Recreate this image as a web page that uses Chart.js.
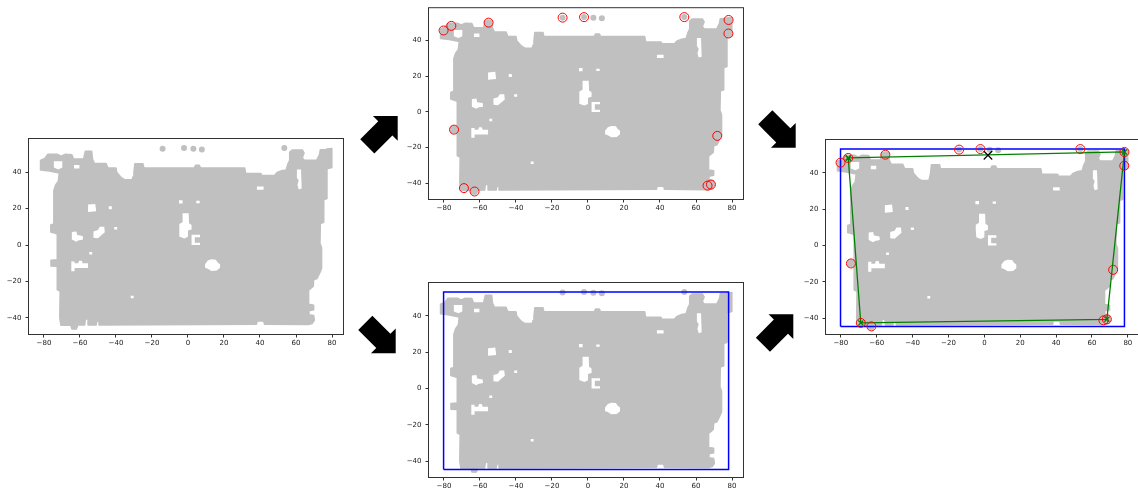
<!DOCTYPE html>
<html><head><meta charset="utf-8">
<script src="https://cdn.jsdelivr.net/npm/chart.js"></script>
<style>
html,body{margin:0;padding:0;background:#fff;width:1138px;height:495px;overflow:hidden;position:relative}
canvas{position:absolute}
svg{position:absolute;left:0;top:0}
</style></head><body>
<canvas id="c1" width="350" height="222" style="left:0px;top:129px"></canvas>
<canvas id="c2" width="351" height="216" style="left:399px;top:0px"></canvas>
<canvas id="c3" width="351" height="220" style="left:399px;top:274px"></canvas>
<canvas id="c4" width="350" height="221" style="left:796px;top:130px"></canvas>
<svg width="1138" height="495">
  <g fill="#000">
    <polygon transform="translate(367.3,146.4) rotate(-45)" points="0,-10 25.5,-10 25.5,-17.5 43,0 25.5,17.5 25.5,10 0,10"/>
    <polygon transform="translate(365.3,322.9) rotate(45)" points="0,-10 25.5,-10 25.5,-17.5 43,0 25.5,17.5 25.5,10 0,10"/>
    <polygon transform="translate(765.3,117.3) rotate(45)" points="0,-10 25.5,-10 25.5,-17.5 43,0 25.5,17.5 25.5,10 0,10"/>
    <polygon transform="translate(762.9,344.7) rotate(-45)" points="0,-10 25.5,-10 25.5,-17.5 43,0 25.5,17.5 25.5,10 0,10"/>
  </g>
</svg>
<script>
// ---- tick labels / ranges ----
const xTicks = [-80, -60, -40, -20, 0, 20, 40, 60, 80];
const yTicks = [-40, -20, 0, 20, 40];
const xRange = [-88.3, 86.1];
const yRange = [-48.8, 58.2];

// ---- selected extreme points (red circles) ----
const hullX = [-80.2, -75.9, -55.2, -14.1, -2.2, 53.5, 78.1, 78.0, 71.8, 68.3, 66.4, -63.0, -68.9, -74.4];
const hullY = [45.7, 48.3, 50.1, 52.9, 53.2, 53.2, 51.6, 44.0, -13.4, -40.7, -41.3, -44.6, -42.7, -9.9];

// ---- other isolated grey points ----
const extraX = [3.0, 7.7];
const extraY = [52.8, 52.5];

// ---- fitted quadrilateral (green) ----
const quadX = [-75.9, 78.1, 68.3, -68.9];
const quadY = [48.3, 51.6, -40.7, -42.7];

// ---- black cross marker ----
const markX = [2.0];
const markY = [49.8];

// ---- outline of the dense grey point cloud ----
const cloudOutline = [
 [-81.8,41.2],[-81.9,46.5],[-79.5,47.5],[-77.8,49.8],[-72.5,49.8],[-70.5,48.8],[-68,49.8],[-64.5,49.6],
 [-63.5,47.2],[-58,47.2],[-57,51.5],[-53.5,51.5],[-53,47],[-52,44.8],[-45.5,44.8],[-44.5,42.3],[-40,42.3],
 [-39.5,39.8],[-37,37],[-35,35.8],[-31,35.8],[-30.5,37.5],[-30,40],[-29.5,44.6],[-25,44.6],[-24.5,42.3],
 [3.5,42.3],[4.2,43.8],[6.3,43.8],[7,42.3],[31.5,42.3],[32,39.3],[40.5,39.3],[41,38.2],[48,38.2],
 [49.5,39.8],[52,40.8],[54.5,41.2],[55.5,44.5],[56.5,46.5],[56.5,51],[58,52.2],[63.5,52.2],[64.5,50.5],
 [63.5,48],[64.5,46.6],[71.5,46.6],[73,49.5],[73.5,52.3],[76.5,52.5],[79.8,53],[79.9,42.5],[77.2,41.8],
 [77.2,25.5],[75.4,24.8],[75.4,12.5],[73.5,11.8],[73.3,1],[74.2,-1.5],[74.2,-12.8],[73.3,-15],[71.6,-18.4],
 [69.8,-19],[69.6,-22.6],[68.5,-23.5],[67,-24.8],[67,-32.5],[69.8,-33],[69.8,-35.5],[67.2,-36],[67.2,-38.2],
 [69.8,-38.6],[70.2,-41.2],[69,-43],[66.8,-43.6],[42.5,-43.4],[42,-41.6],[38.5,-41.6],[38,-43.4],
 [-49,-43.8],[-49.4,-41.6],[-50.6,-41.6],[-51,-43.8],[-55.2,-43.8],[-55.5,-40.6],[-57,-40.6],[-57.4,-43.8],
 [-61.3,-43.9],[-62,-46],[-64.5,-46],[-65,-44],[-70.6,-44],[-71.2,-40],[-71,-25.4],[-72.5,-24.5],
 [-72.6,-11.6],[-76.1,-11.5],[-76.1,-8.3],[-72.6,-8],[-72.6,6],[-74.2,6.6],[-76.2,7.2],[-76.2,11],
 [-74.5,11.6],[-74.5,30],[-73.5,33],[-72,35],[-71.5,39.5],[-77,40.6]
];

// ---- empty gaps inside the cloud ----
const cloudHoles = [
 [[-74.5,46],[-69.8,46],[-69.8,42.5],[-72,41.5],[-74.5,42.5]],
 [[-63.3,44],[-60.3,44],[-60.3,42],[-63.3,42]],
 [[-55.5,22.2],[-51.5,22.6],[-51,18.5],[-55.5,18.1]],
 [[-44,21.3],[-42.3,21.3],[-42.3,19.6],[-44,19.6]],
 [[-5,24.6],[-3,24.6],[-3,22.8],[-5,22.8]],
 [[4.6,24.3],[6.5,24.3],[6.5,23],[4.6,23]],
 [[-3,17.5],[0.4,17.5],[0.6,12],[2,11],[2,8.5],[0,8],[0,4.5],[-2,3.6],[-4.5,4.5],[-4.8,8.5],[-4.8,11.5],[-3,12.5]],
 [[2,5.6],[6.7,5.6],[6.7,4.3],[3.8,4.3],[3.8,1.3],[6.7,1.3],[6.7,0],[2,0]],
 [[-52.5,7.5],[-50,8.2],[-49,10],[-46.5,10],[-46.2,7],[-48,5.5],[-50,3.8],[-52.5,4]],
 [[-41,9.9],[-39.3,9.9],[-39.3,8.5],[-41,8.5]],
 [[-64.5,7.2],[-62,7.5],[-61.5,5.5],[-58.5,5],[-58.3,3],[-61,2.5],[-62,1.8],[-64.5,3]],
 [[-54.8,-3.8],[-53.2,-3.8],[-53.2,-5.2],[-54.8,-5.2]],
 [[-64.8,-9],[-63,-9],[-63,-10],[-61,-10],[-60.5,-8.6],[-59,-8.6],[-58.5,-10],[-55.5,-10],[-55.5,-12.6],[-63,-12.6],[-63,-14.4],[-64.8,-14.4]],
 [[11,-8.5],[13,-7.8],[15.5,-8],[16.5,-9.5],[17.8,-10.5],[17.8,-12.5],[16,-14],[13,-14.2],[11,-13],[9.5,-12.5],[9.5,-10.5]],
 [[-31.8,-27.8],[-30.2,-27.8],[-30.2,-29.2],[-31.8,-29.2]],
 [[38.3,32.1],[42,32.1],[42,30.3],[38.3,30.3]],
 [[60.5,41.5],[62.8,41.5],[62.8,38],[63.3,36],[63.3,31],[61.5,30.5],[60.8,33],[61.5,35.5],[60.5,37]]
];

// ---- helpers ----
const GREY = '#c0c0c0';
const pairsToXY = arr => arr.map(([x, y]) => ({x, y}));
const colsToXY = (xs, ys) => xs.map((x, i) => ({x, y: ys[i]}));
const closed = pts => pts.concat([pts[0]]);
const fmt = v => (v < 0 ? '\u2212' + Math.abs(v) : String(v));

function lineDS(pts, o) {
  return Object.assign({data: pts, showLine: true, tension: 0, pointRadius: 0, pointHoverRadius: 0,
    fill: false, borderWidth: 1}, o);
}

function baseDatasets() {
  const ds = [];
  ds.push(lineDS(closed(pairsToXY(cloudOutline)), {fill: 'shape', backgroundColor: GREY,
    borderColor: GREY, borderWidth: 1.5, borderJoinStyle: 'round', order: 100}));
  cloudHoles.forEach(h => ds.push(lineDS(closed(pairsToXY(h)), {fill: 'shape', backgroundColor: '#ffffff',
    borderColor: 'rgba(0,0,0,0)', borderWidth: 0, order: 90})));
  ds.push({data: colsToXY(hullX.concat(extraX), hullY.concat(extraY)), showLine: false, pointRadius: 3,
    pointHoverRadius: 3, pointBackgroundColor: GREY, pointBorderWidth: 0, order: 80});
  return ds;
}
function redDS() {
  return {data: colsToXY(hullX, hullY), showLine: false, pointRadius: 4.5, pointHoverRadius: 4.5,
    pointStyle: 'circle', pointBackgroundColor: 'rgba(0,0,0,0)', pointBorderColor: '#ff0000',
    pointBorderWidth: 1, order: 30};
}
function blueDS() {
  const x0 = Math.min(...hullX), x1 = Math.max(...hullX);
  const y0 = Math.min(...hullY), y1 = Math.max(...hullY);
  return lineDS([{x: x0, y: y0}, {x: x1, y: y0}, {x: x1, y: y1}, {x: x0, y: y1}, {x: x0, y: y0}],
    {borderColor: '#0000ff', borderWidth: 1.5, order: 50});
}
function greenDS() {
  return lineDS(closed(colsToXY(quadX, quadY)), {borderColor: '#008000', borderWidth: 1.3,
    pointRadius: 3.5, pointHoverRadius: 3.5, pointStyle: 'crossRot', pointBorderColor: '#008000',
    pointBackgroundColor: '#008000', pointBorderWidth: 1.3, order: 40});
}
function blackDS() {
  return {data: colsToXY(markX, markY), showLine: false, pointStyle: 'crossRot', pointRadius: 6,
    pointHoverRadius: 6, pointBorderColor: '#000', pointBorderWidth: 1.2, order: 20};
}

const framePlugin = {
  id: 'frame',
  afterDatasetsDraw(chart) {
    const {ctx, chartArea: a} = chart;
    ctx.save();
    ctx.strokeStyle = '#333';
    ctx.lineWidth = 1;
    ctx.strokeRect(a.left - 0.5, a.top - 0.5, a.right - a.left + 1, a.bottom - a.top + 1);
    ctx.restore();
  }
};

Chart.defaults.font.family = 'DejaVu Sans';

function makePanel(id, yW, xH, padT, padR, datasets) {
  const tickFont = {family: 'DejaVu Sans', size: 7};
  const grid = {display: true, drawOnChartArea: false, drawTicks: true, tickLength: 3.5,
    tickColor: '#333', color: '#333', lineWidth: 1};
  new Chart(document.getElementById(id), {
    type: 'line',
    data: {datasets},
    options: {
      responsive: false, animation: false, events: [],
      layout: {padding: {left: 0, top: padT, right: padR, bottom: 0}},
      plugins: {legend: {display: false}, tooltip: {enabled: false}},
      scales: {
        x: {type: 'linear', min: xRange[0], max: xRange[1],
          afterBuildTicks: s => { s.ticks = xTicks.map(v => ({value: v})); },
          afterFit: s => { s.height = xH; },
          grid, border: {display: false},
          ticks: {font: tickFont, color: '#1a1a1a', padding: 1, maxRotation: 0, autoSkip: false, callback: fmt}},
        y: {type: 'linear', min: yRange[0], max: yRange[1],
          afterBuildTicks: s => { s.ticks = yTicks.map(v => ({value: v})); },
          afterFit: s => { s.width = yW; },
          grid, border: {display: false},
          ticks: {font: tickFont, color: '#1a1a1a', padding: 4, autoSkip: false, callback: fmt}}
      }
    },
    plugins: [framePlugin]
  });
}

makePanel('c1', 29, 17, 10, 7, baseDatasets());
makePanel('c2', 30, 17, 4, 7, baseDatasets().concat([redDS()]));
makePanel('c3', 30, 17, 9, 7, baseDatasets().concat([blueDS()]));
makePanel('c4', 30, 17, 10, 6, baseDatasets().concat([blueDS(), redDS(), greenDS(), blackDS()]));
</script>
</body></html>
